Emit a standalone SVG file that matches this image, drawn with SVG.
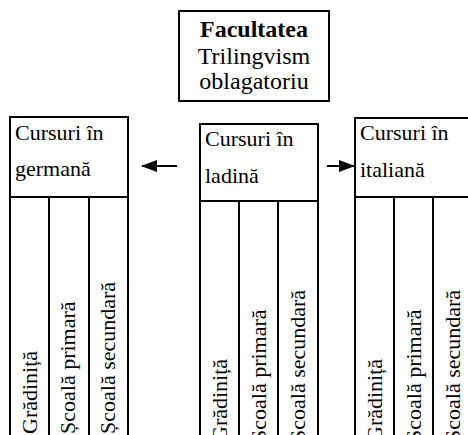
<svg xmlns="http://www.w3.org/2000/svg" width="468" height="435" viewBox="0 0 468 435">
<style>
.b{fill:#fff;stroke:#000;stroke-width:2}
.l{stroke:#000;stroke-width:2;fill:none}
.t{font-family:"Liberation Serif","Times New Roman",serif;font-size:22px;fill:#000}
.h{font-family:"Liberation Serif","Times New Roman",serif;font-size:24px;fill:#000;text-anchor:middle}
.v{font-family:"Liberation Serif","Times New Roman",serif;font-size:22px;fill:#000}
</style>
<defs>
<marker id="ah" markerWidth="16" markerHeight="12" refX="15" refY="6" orient="auto" markerUnits="userSpaceOnUse">
<path d="M0,0 L16,6 L0,12 Z" fill="#000"/>
</marker>
</defs>
<g id="facultatea">
<rect class="b" x="179" y="11" width="150" height="90"/>
<text class="h" x="254" y="37" font-weight="bold" font-size="26">Facultatea</text>
<text class="h" x="254" y="64">Trilingvism</text>
<text class="h" x="254" y="89">oblagatoriu</text>
</g>
<g id="germana">
<rect class="b" x="10" y="117" width="118" height="340"/>
<line class="l" x1="10" y1="197" x2="128" y2="197"/>
<line class="l" x1="49" y1="197" x2="49" y2="450"/>
<line class="l" x1="89" y1="197" x2="89" y2="450"/>
<text class="t" x="15" y="140">Cursuri în</text>
<text class="t" x="15" y="176">germană</text>
<text class="v" transform="translate(36.5,434) rotate(-90)">Grădiniță</text>
<text class="v" transform="translate(75,434) rotate(-90)">Școală primară</text>
<text class="v" transform="translate(115,434) rotate(-90)">Școală secundară</text>
</g>
<g id="ladina">
<rect class="b" x="200" y="124" width="118" height="340"/>
<line class="l" x1="200" y1="201" x2="318" y2="201"/>
<line class="l" x1="239" y1="201" x2="239" y2="450"/>
<line class="l" x1="278" y1="201" x2="278" y2="450"/>
<text class="t" x="205" y="146">Cursuri în</text>
<text class="t" x="205" y="183">ladină</text>
<text class="v" transform="translate(226.5,442) rotate(-90)">Grădiniță</text>
<text class="v" transform="translate(265.5,442) rotate(-90)">Școală primară</text>
<text class="v" transform="translate(304.5,442) rotate(-90)">Școală secundară</text>
</g>
<g id="italiana">
<rect class="b" x="355" y="118" width="130" height="340"/>
<line class="l" x1="355" y1="197" x2="485" y2="197"/>
<line class="l" x1="394" y1="197" x2="394" y2="450"/>
<line class="l" x1="433" y1="197" x2="433" y2="450"/>
<line class="l" x1="472" y1="197" x2="472" y2="450"/>
<text class="t" x="360" y="140">Cursuri în</text>
<text class="t" x="360" y="177">italiană</text>
<text class="v" transform="translate(381.5,442) rotate(-90)">Grădiniță</text>
<text class="v" transform="translate(420.5,442) rotate(-90)">Școală primară</text>
<text class="v" transform="translate(459.5,442) rotate(-90)">Școală secundară</text>
</g>
<g id="connectors">
<line class="l" x1="177" y1="166" x2="142" y2="166" marker-end="url(#ah)"/>
<line class="l" x1="327" y1="166" x2="354" y2="166" marker-end="url(#ah)"/>
</g>
</svg>
